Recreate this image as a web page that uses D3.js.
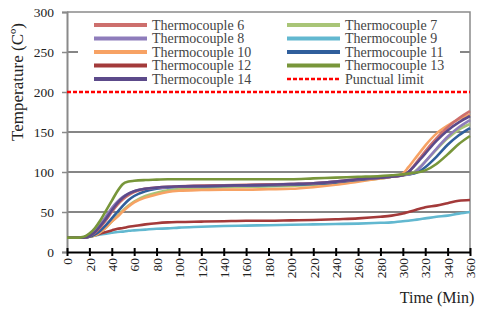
<!DOCTYPE html>
<html>
<head>
<meta charset="utf-8">
<script src="https://cdn.jsdelivr.net/npm/d3@7"></script>
<style>
  body { margin: 0; background: #fff; }
  svg text { font-family: "Liberation Serif", "Times New Roman", "DejaVu Serif", serif !important; }
</style>
</head>
<body>
<div id="chart"></div>
<script>
// Time values (minutes) shared by every series
var times = [0, 10, 15, 20, 25, 30, 35, 40, 45, 50, 55, 60, 70, 80, 90, 100, 120, 140, 160, 180,
             200, 220, 240, 260, 280, 290, 300, 305, 310, 315, 320, 330, 340, 350, 360];

// Temperatures (C)
var tc6  = [18, 18, 18, 20, 24, 31, 40, 50, 59, 66, 71, 75, 79, 80.5, 81.5, 82, 83, 83.5, 84, 84.5,
            85, 86, 88, 91, 93, 94, 96, 100, 108, 117, 126, 142, 156, 167, 176];
var tc7  = [18, 18, 18, 19, 21, 25, 31, 38, 45, 52, 58, 63, 70, 74, 77, 78.5, 80, 81, 81.5, 82,
            82.5, 84, 86, 89, 92, 94, 96, 97, 100, 106, 113, 128, 142, 153, 160];
var tc8  = [18, 18, 18, 21, 27, 35, 45, 55, 63, 69, 73, 76, 79, 80, 81, 82, 82.5, 83, 83.5, 84,
            85, 86, 88, 91, 93, 94, 96, 97, 99, 105, 113, 129, 144, 156, 165];
var tc9  = [18, 18, 18, 19, 20.5, 22, 23, 24, 25, 25.5, 26.5, 27, 28, 29, 29.5, 30.5, 31.5, 32.5, 33, 33.5,
            34, 34.5, 35, 35.5, 36.5, 37, 38.5, 39, 40, 41, 42, 44, 45.5, 48, 50];
var tc10 = [18, 18, 18, 19, 21, 25, 31, 38, 44, 51, 57, 62, 68, 72, 75, 76.5, 77.5, 78, 78, 78.5,
            79, 81, 84, 88, 92, 94, 98, 106, 115, 124, 133, 148, 158, 166, 172];
var tc11 = [18, 18, 18, 19, 22, 27, 34, 42, 50, 58, 65, 70, 76, 79, 80.5, 81.5, 82, 82.5, 83, 83.5,
            84, 85, 87, 90, 93, 94, 96, 97, 98, 101, 106, 119, 134, 146, 155];
var tc12 = [18, 18, 18, 19, 21, 23, 25, 27, 29, 30, 31.5, 32.5, 34.5, 36, 37, 37.5, 38, 38.5, 39, 39,
            39.5, 40, 41, 42, 44, 45.5, 48, 50, 52, 54, 56, 58, 61, 64, 65];
var tc13 = [18, 18, 19, 23, 30, 40, 52, 64, 76, 85, 88, 89, 90, 90.5, 91, 91, 91, 91, 91, 91,
            91, 92, 93, 94, 95, 96, 97, 98, 99, 100, 102, 110, 122, 135, 145];
var tc14 = [18, 18, 18, 20, 25, 33, 42, 52, 61, 68, 73, 76, 79, 80.5, 81.5, 82, 82.5, 83, 83.5, 84,
            85, 86, 88, 91, 93, 94, 96, 100, 107, 115, 123, 139, 152, 162, 170];

var seriesNames  = ["Thermocouple 6", "Thermocouple 7", "Thermocouple 8", "Thermocouple 9", "Thermocouple 10",
                    "Thermocouple 11", "Thermocouple 12", "Thermocouple 13", "Thermocouple 14"];
var seriesValues = [tc6, tc7, tc8, tc9, tc10, tc11, tc12, tc13, tc14];
var seriesColors = ["#cd6f6d", "#a9c577", "#8e7cbb", "#62b8d0", "#f7a264",
                    "#305f9c", "#a33a3a", "#78963a", "#5c4a8a"];

var limitName = "Punctual limit";
var limitValue = 200;

var xTicks = d3.range(0, 361, 20);
var yTicks = [0, 50, 100, 150, 200, 250, 300];

var serif = "'Liberation Serif', 'Times New Roman', 'DejaVu Serif', serif";

function init() {
    var w = 487;
    var h = 312;

    var xScale = d3.scaleLinear().domain([0, 360]).range([67, 470]);
    var yScale = d3.scaleLinear().domain([0, 300]).range([252, 12]);

    var svg = d3.select("#chart")
        .append("svg")
        .attr("width", w)
        .attr("height", h)
        .attr("font-family", serif);

    // horizontal gridlines
    svg.append("g")
        .selectAll("line")
        .data([50, 100, 150, 250])
        .enter()
        .append("line")
        .attr("x1", xScale(0))
        .attr("x2", xScale(360))
        .attr("y1", function(d) { return yScale(d); })
        .attr("y2", function(d) { return yScale(d); })
        .attr("stroke", "#5e5e5e")
        .attr("stroke-width", 1.5);

    // plot frame (top and right)
    svg.append("path")
        .attr("d", "M" + xScale(0) + "," + yScale(300) + "H" + xScale(360) + "V" + yScale(0))
        .attr("fill", "none")
        .attr("stroke", "#8a8a8a")
        .attr("stroke-width", 1.5);

    // y axis
    var yAxis = d3.axisLeft(yScale)
        .tickValues(yTicks)
        .tickSize(5)
        .tickPadding(8);
    var gy = svg.append("g")
        .attr("transform", "translate(" + xScale(0) + ",0)")
        .call(yAxis)
        .attr("font-family", serif);
    gy.select(".domain").attr("stroke", "#8a8a8a").attr("stroke-width", 2);
    gy.selectAll(".tick line").attr("stroke", "#8a8a8a").attr("stroke-width", 1.5);
    gy.selectAll(".tick text")
        .attr("fill", "#222")
        .style("font-size", "13.5px");

    // legend box covers the 250 gridline
    svg.append("rect")
        .attr("x", 78)
        .attr("y", 15)
        .attr("width", 382)
        .attr("height", 72)
        .attr("fill", "#fff");

    // data lines
    var line = d3.line()
        .x(function(d, i) { return xScale(times[i]); })
        .y(function(d) { return yScale(d); })
        .curve(d3.curveMonotoneX);

    var drawOrder = [3, 6, 1, 4, 5, 2, 0, 8, 7];
    drawOrder.forEach(function(k) {
        svg.append("path")
            .datum(seriesValues[k])
            .attr("d", line)
            .attr("fill", "none")
            .attr("stroke", seriesColors[k])
            .attr("stroke-width", 2.6);
    });

    // punctual limit
    svg.append("line")
        .attr("x1", xScale(0))
        .attr("x2", xScale(360))
        .attr("y1", yScale(limitValue))
        .attr("y2", yScale(limitValue))
        .attr("stroke", "#ff0000")
        .attr("stroke-width", 2.5)
        .attr("stroke-dasharray", "4,2");

    // x axis: black, ticks crossing the line
    var xAxis = d3.axisBottom(xScale)
        .tickValues(xTicks)
        .tickSizeInner(4)
        .tickSizeOuter(0)
        .tickFormat(d3.format("d"));
    var gx = svg.append("g")
        .attr("transform", "translate(0," + yScale(0) + ")")
        .call(xAxis)
        .attr("font-family", serif);
    gx.select(".domain").attr("stroke", "#000").attr("stroke-width", 2);
    gx.selectAll(".tick line")
        .attr("y1", -4)
        .attr("y2", 4)
        .attr("stroke", "#000")
        .attr("stroke-width", 2);
    gx.selectAll(".tick text")
        .attr("fill", "#222")
        .style("font-size", "13.5px")
        .attr("text-anchor", "end")
        .attr("dy", "0.35em")
        .attr("x", 0)
        .attr("y", 0)
        .attr("transform", "translate(0,6) rotate(-90)");

    // axis titles
    svg.append("text")
        .attr("transform", "translate(23,82) rotate(-90)")
        .attr("text-anchor", "middle")
        .attr("fill", "#222")
        .style("font-size", "17px")
        .text("Temperature (C\u00ba)");

    svg.append("text")
        .attr("x", 437)
        .attr("y", 303)
        .attr("text-anchor", "middle")
        .attr("fill", "#222")
        .style("font-size", "16px")
        .text("Time (Min)");

    // legend, two columns
    var legendOrder = [0, 2, 4, 6, 8, 1, 3, 5, 7, -1];
    legendOrder.forEach(function(k, i) {
        var col = i < 5 ? 0 : 1;
        var row = i % 5;
        var lx = col === 0 ? 94 : 287;
        var ly = 25 + row * 13.5;
        svg.append("line")
            .attr("x1", lx)
            .attr("x2", lx + 53)
            .attr("y1", ly)
            .attr("y2", ly)
            .attr("stroke", k < 0 ? "#ff0000" : seriesColors[k])
            .attr("stroke-width", k < 0 ? 2.5 : 4)
            .attr("stroke-dasharray", k < 0 ? "4,2" : null);
        svg.append("text")
            .attr("x", lx + 58)
            .attr("y", ly + 4.5)
            .attr("fill", "#444")
            .style("font-size", "14px")
            .text(k < 0 ? limitName : seriesNames[k]);
    });
}

window.onload = init;
</script>
</body>
</html>
